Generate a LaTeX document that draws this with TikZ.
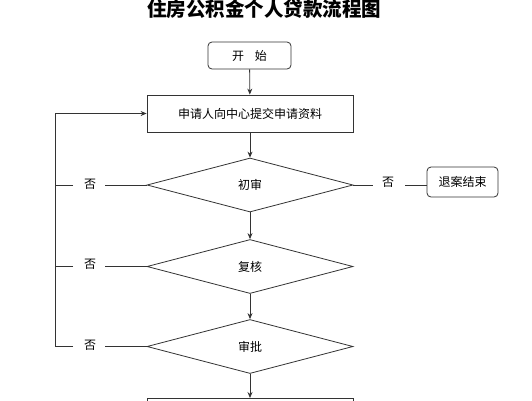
\documentclass[tikz,border=0pt]{standalone}
\usepackage{fontspec}
\setmainfont{Noto Sans CJK SC}
\newfontfamily\cjk{Noto Sans CJK SC}
\usetikzlibrary{shapes.geometric,arrows.meta}
\tikzset{
  ln/.style={draw=black!80, line width=0.8pt},
  arr/.style={ln, -{Stealth[length=6pt,width=5pt]}},
  rbox/.style={ln, rounded corners=4pt, inner sep=0pt, font=\fontsize{12}{14}\selectfont},
  sbox/.style={ln, inner sep=0pt, font=\fontsize{12}{14}\selectfont},
  dia/.style={ln, diamond, inner sep=0pt, minimum width=206pt, minimum height=54pt, font=\fontsize{12}{14}\selectfont},
  lab/.style={inner sep=0pt, font=\fontsize{12}{14}\selectfont}
}
\begin{document}
\begin{tikzpicture}[x=1pt,y=-1pt]
\useasboundingbox (0,0) rectangle (532,400);
\clip (0,0) rectangle (532,400);
\fill[white] (0,0) rectangle (532,400);
\node[inner sep=0pt, font=\cjk\bfseries\fontsize{19.5}{22}\selectfont] (title) at (264,9) {住房公积金个人贷款流程图};
\node[rbox, minimum width=83pt, minimum height=27pt] (start) at (249.5,55.5) {开\hspace{11pt}始};
\node[sbox, minimum width=206pt, minimum height=37pt] (apply) at (250,113.5) {申请人向中心提交申请资料};
\node[dia] (d1) at (250,185) {初审};
\node[dia] (d2) at (250,266.5) {复核};
\node[dia] (d3) at (250,346.5) {审批};
\node[rbox, minimum width=71pt, minimum height=30pt] (quit) at (462.5,182) {退案结束};
\node[sbox, minimum width=206pt, minimum height=40pt, anchor=north] (next) at (250,398) {};
\draw[arr] (start) -- (apply);
\draw[arr] (apply) -- (d1);
\draw[arr] (d1) -- (d2);
\draw[arr] (d2) -- (d3);
\draw[arr] (d3) -- (next);
% left no labels
\node[lab] (n1) at (90,184) {否};
\node[lab] (n2) at (90,264) {否};
\node[lab] (n3) at (90,345) {否};
\coordinate (c1) at (55,185);
\coordinate (c2) at (55,266.5);
\coordinate (c3) at (55,346.5);
\coordinate (ctop) at (55,113.5);
\draw[ln] (d1.west) -- (105,185); \draw[ln] (73,185) -- (c1);
\draw[ln] (d2.west) -- (105,266.5); \draw[ln] (73,266.5) -- (c2);
\draw[ln] (d3.west) -- (105,346.5); \draw[ln] (73,346.5) -- (c3);
\draw[arr] (c3) -- (ctop) -- (apply.west);
% right
\node[lab] (n4) at (388,182) {否};
\draw[ln] (d1.east) -- (373,185);
\draw[ln] (405,185) -- (quit.west |- d1.east);
\end{tikzpicture}
\end{document}
